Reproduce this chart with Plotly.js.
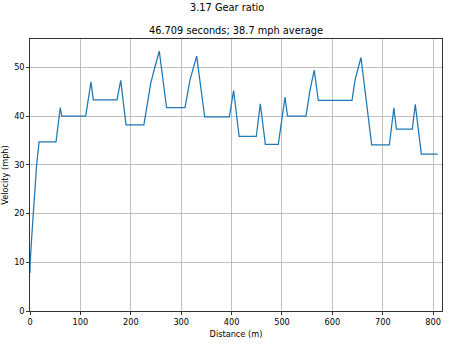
<!DOCTYPE html>
<html>
<head>
<meta charset="utf-8">
<script src="https://cdn.plot.ly/plotly-3.0.1.min.js"></script>
<style>html,body{margin:0;padding:0;background:#fff;}#chart{width:454px;height:348px;}</style>
</head>
<body>
<div id="chart"></div>
<script>
const distance = [0, 0.4, 3.3, 6.6, 10, 13.2, 18, 51.6, 60, 63, 110.5, 121, 125.6, 172.6, 180, 190.5,
  226, 231.5, 239.5, 248, 256.5, 271, 307.5, 317.5, 330.7, 346.6, 395.5, 404, 415, 449, 457, 467,
  492.7, 506, 511, 547.6, 555.6, 564, 572, 639, 645, 656.7, 668, 678, 713, 722, 727, 758.5, 764.5,
  776.5, 809];
const velocity = [7.8, 10, 15, 20, 25, 30, 34.7, 34.7, 41.7, 40.0, 40.0, 47.0, 43.3, 43.3, 47.3, 38.2,
  38.2, 41.9, 46.7, 50.1, 53.3, 41.7, 41.7, 47.4, 52.3, 39.8, 39.8, 45.2, 35.8, 35.8, 42.5, 34.2,
  34.2, 43.9, 40.0, 40.0, 45.3, 49.4, 43.2, 43.2, 47.4, 52.0, 41.9, 34.1, 34.1, 41.7, 37.3, 37.3, 42.4,
  32.2, 32.2];
const suptitle = "3.17 Gear ratio";
const subtitle = "46.709 seconds; 38.7 mph average";
const xLabel = "Distance (m)";
const yLabel = "Velocity (mph)";
const xTicks = [0, 100, 200, 300, 400, 500, 600, 700, 800];
const yTicks = [0, 10, 20, 30, 40, 50];

const font = {family: "DejaVu Sans", size: 8.2, color: "#000"};
const axisCommon = {
  showline: true, linecolor: "#000", linewidth: 0.8, mirror: true,
  showgrid: true, gridcolor: "#b0b0b0", gridwidth: 0.8,
  ticks: "outside", ticklen: 3, tickwidth: 0.8, tickcolor: "#000",
  zeroline: false, tickfont: font, fixedrange: true
};
Plotly.newPlot("chart", [{
  x: distance, y: velocity, type: "scatter", mode: "lines",
  line: {color: "#1f77b4", width: 1.25}, hoverinfo: "skip"
}], {
  width: 454, height: 348,
  margin: {l: 30, r: 12, t: 39, b: 37},
  paper_bgcolor: "#fff", plot_bgcolor: "#fff",
  font: font, showlegend: false,
  xaxis: Object.assign({}, axisCommon, {
    range: [0, 817.5], tickmode: "array", tickvals: xTicks, ticktext: xTicks.map(String),
    title: {text: xLabel, font: font, standoff: 5}
  }),
  yaxis: Object.assign({}, axisCommon, {
    range: [0, 55.8], tickmode: "array", tickvals: yTicks, ticktext: yTicks.map(String),
    title: {text: yLabel, font: font, standoff: 5}
  }),
  annotations: [
    {text: suptitle, xref: "paper", yref: "paper", x: 0.478, y: 1.1158, xanchor: "center", yanchor: "middle",
     showarrow: false, font: {family: "DejaVu Sans", size: 9.8, color: "#000"}},
    {text: subtitle, xref: "paper", yref: "paper", x: 0.5, y: 1.033, xanchor: "center", yanchor: "middle",
     showarrow: false, font: {family: "DejaVu Sans", size: 9.8, color: "#000"}}
  ]
}, {staticPlot: true, displayModeBar: false});
</script>
</body>
</html>
